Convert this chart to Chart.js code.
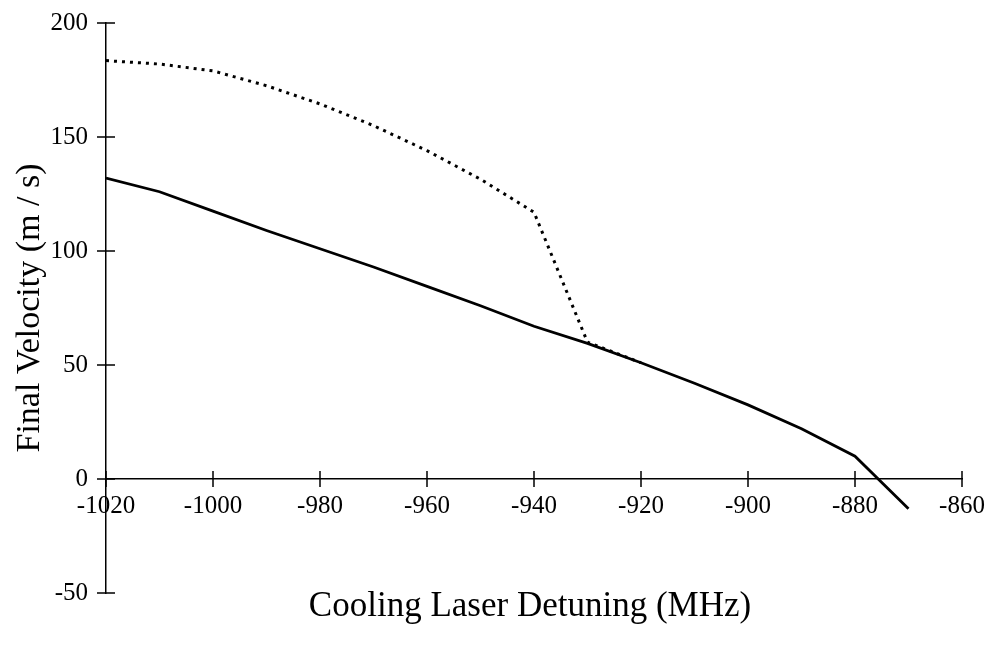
<!DOCTYPE html>
<html>
<head>
<meta charset="utf-8">
<script src="https://cdn.jsdelivr.net/npm/chart.js@4.4.1/dist/chart.umd.min.js"></script>
<style>
  html, body { margin: 0; padding: 0; background: #fff; }
  #wrap { width: 991px; height: 654px; }
</style>
</head>
<body>
<div id="wrap"><canvas id="c"></canvas></div>
<script>
  // detuning (MHz) and final velocity (m/s)
  const detuning = [-1020, -1010, -1000, -990, -980, -970, -960, -950, -940, -930, -920, -910, -900, -890, -880, -870];
  const velSolid = [132, 126, 117.5, 109, 101, 93, 84.5, 76, 67, 59.5, 51, 42, 32.5, 22, 10, -13];

  const detuningDotted = [-1020, -1010, -1000, -990, -980, -970, -960, -950, -940, -930, -920];
  const velDotted = [183.5, 182, 179, 172.5, 164.5, 155, 144, 131.5, 117, 60, 51];

  const xTicks = [-1020, -1000, -980, -960, -940, -920, -900, -880, -860];
  const yTicks = [-50, 0, 50, 100, 150, 200];

  const FONT = '"Liberation Serif", "Times New Roman", serif';
  const INK = '#000';

  function _xy(xs, ys) { return xs.map((x, i) => ({ x: x, y: ys[i] })); }

  // tick marks that cross the axis lines, plus the x title under the plot
  const crossTicks = {
    id: 'crossTicks',
    afterDraw(chart) {
      const ctx = chart.ctx, xs = chart.scales.x, ys = chart.scales.y;
      const x0 = xs.getPixelForValue(-1020), y0 = ys.getPixelForValue(0);
      ctx.save();
      ctx.strokeStyle = INK;
      ctx.lineWidth = 1.5;
      ctx.beginPath();
      xTicks.forEach(v => {
        const px = xs.getPixelForValue(v);
        ctx.moveTo(px, y0 - 8); ctx.lineTo(px, y0 + 8);
      });
      yTicks.forEach(v => {
        const py = ys.getPixelForValue(v);
        ctx.moveTo(x0 - 9, py); ctx.lineTo(x0 + 9, py);
      });
      ctx.stroke();

      ctx.fillStyle = INK;
      ctx.font = '35px ' + FONT;
      ctx.textAlign = 'center';
      ctx.textBaseline = 'middle';
      const ca = chart.chartArea;
      ctx.fillText('Cooling Laser Detuning (MHz)', (ca.left + ca.right) / 2 - 4, 607);
      ctx.restore();
    }
  };

  new Chart(document.getElementById('c'), {
    type: 'line',
    data: {
      datasets: [
        {
          data: _xy(detuning, velSolid),
          borderColor: INK, borderWidth: 2.8,
          pointRadius: 0, tension: 0, fill: false,
        },
        {
          data: _xy(detuningDotted, velDotted),
          borderColor: INK, borderWidth: 3, borderDash: [3, 5],
          pointRadius: 0, tension: 0, fill: false,
        },
      ],
    },
    options: {
      responsive: true,
      maintainAspectRatio: false,
      animation: false,
      layout: { padding: { left: 6, right: 29, top: 23, bottom: 61 } },
      plugins: { legend: { display: false }, tooltip: { enabled: false } },
      scales: {
        x: {
          type: 'linear',
          position: { y: 0 },
          min: -1020, max: -860,
          afterBuildTicks: s => { s.ticks = xTicks.map(v => ({ value: v })); },
          afterFit: s => { s.paddingLeft = 0; s.paddingRight = 0; },
          grid: { display: false, drawTicks: false },
          border: { display: true, color: INK, width: 1.5 },
          ticks: {
            color: INK, font: { family: FONT, size: 25 }, padding: 12, maxRotation: 0,
            callback: v => String(v),
          },
        },
        y: {
          type: 'linear',
          min: -50, max: 200,
          afterBuildTicks: s => { s.ticks = yTicks.map(v => ({ value: v })); },
          afterFit: s => { s.width = 100; s.paddingTop = 0; s.paddingBottom = 0; },
          grid: { display: false, drawTicks: false },
          border: { display: true, color: INK, width: 1.5 },
          ticks: { color: INK, font: { family: FONT, size: 25 }, padding: 18, callback: v => String(v) },
          title: {
            display: true, text: 'Final Velocity (m / s)', color: INK,
            font: { family: FONT, size: 34 }, padding: { top: 4, bottom: 0 },
          },
        },
      },
    },
    plugins: [crossTicks],
  });
</script>
</body>
</html>
